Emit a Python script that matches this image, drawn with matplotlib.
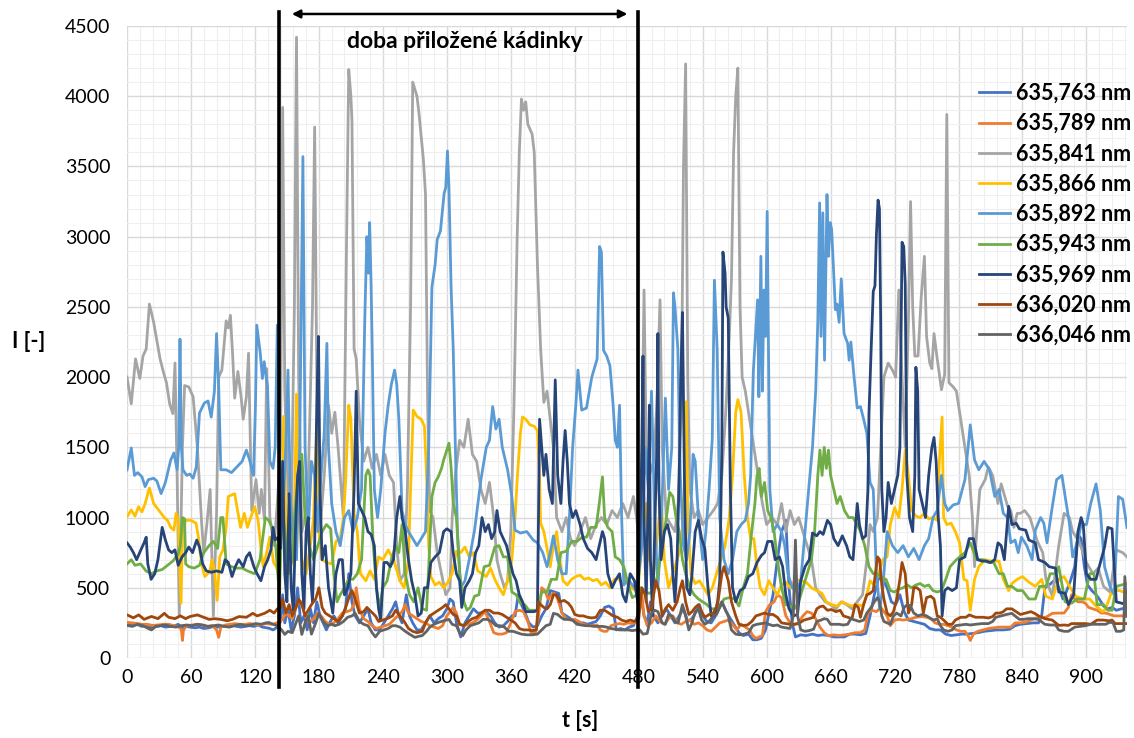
import matplotlib.pyplot as plt
import matplotlib.transforms as mtransforms
from matplotlib.ticker import MultipleLocator
import numpy as np

plt.rcParams['font.family'] = ['Lato', 'DejaVu Sans']

# (t [s], I [-]) pairs
s763 = [(0,243),(5,235),(9,240),(14,225),(18,230),(23,220),(28,225),(32,230),(36,220),(41,225),(45,230),(48,240),(52,215),(56,225),(59,220),(64,215),(68,220),(72,210),(77,215),(81,225),(85,220),(90,225),(94,230),(98,235),(103,225),(107,220),(111,225),(115,230),(119,225),(123,235),(127,220),(131,215),(134,210),(137,200),(141,220),(144,260),(146,450),(148,250),(151,350),(154,200),(157,300),(160,500),(163,250),(166,300),(169,200),(172,350),(175,250),(178,400),(181,300),(184,250),(187,200),(190,250),(194,300),(198,250),(202,300),(205,350),(208,600),(211,400),(214,300),(218,250),(222,300),(226,350),(229,250),(233,200),(237,200),(241,250),(245,300),(249,350),(252,400),(255,300),(258,250),(262,450),(265,300),(268,250),(272,200),(276,200),(280,250),(284,300),(288,250),(292,280),(296,300),(300,350),(303,420),(306,400),(309,250),(313,150),(317,250),(321,300),(325,350),(329,320),(333,320),(337,330),(341,300),(345,250),(349,220),(353,230),(357,260),(361,300),(364,300),(367,450),(370,380),(373,330),(377,250),(381,220),(385,230),(389,300),(393,350),(397,480),(401,470),(405,460),(408,320),(412,300),(416,280),(420,260),(424,250),(428,250),(432,240),(436,250),(440,260),(444,300),(448,360),(452,370),(456,350),(459,200),(463,210),(467,200),(471,220),(475,230),(479,300),(482,450),(485,300),(488,250),(491,400),(494,300),(498,250),(502,300),(506,350),(510,300),(514,250),(518,300),(522,350),(526,260),(530,280),(534,330),(537,380),(540,300),(544,260),(548,250),(552,300),(555,350),(558,400),(562,330),(566,280),(570,230),(574,180),(578,160),(583,170),(587,130),(591,130),(595,140),(599,200),(603,350),(606,450),(610,700),(614,900),(618,980),(621,500),(624,250),(627,150),(632,165),(637,160),(643,170),(648,160),(653,165),(658,160),(663,150),(668,150),(673,150),(678,170),(683,170),(688,165),(693,175),(697,300),(701,450),(705,570),(709,560),(713,500),(717,400),(721,380),(725,450),(729,330),(733,270),(738,260),(743,250),(748,240),(753,210),(758,200),(763,200),(768,170),(773,160),(778,165),(783,170),(788,170),(793,175),(798,180),(804,190),(810,195),(816,200),(822,200),(828,205),(833,230),(838,240),(844,245),(850,250),(855,250),(858,300),(861,500),(865,520),(868,540),(871,560),(874,500),(878,420),(881,470),(885,550),(889,650),(892,880),(895,850),(898,650),(901,520),(905,480),(909,450),(912,420),(916,370),(920,350),(924,360),(928,340),(933,350),(938,360)]

s789 = [(0,253),(5,250),(10,245),(14,240),(19,240),(24,232),(29,235),(34,240),(39,240),(44,230),(49,220),(51,200),(52,125),(53,200),(56,230),(61,235),(66,240),(70,235),(75,225),(80,230),(84,200),(86,147),(88,220),(92,235),(97,240),(101,245),(106,240),(111,240),(115,245),(120,240),(124,235),(127,240),(131,245),(135,240),(139,245),(143,260),(146,275),(149,320),(152,300),(155,280),(158,350),(161,400),(164,400),(167,300),(171,250),(175,280),(179,320),(182,300),(186,260),(190,240),(194,250),(198,280),(202,320),(206,330),(210,340),(213,380),(215,500),(218,350),(222,280),(226,260),(230,230),(234,210),(238,220),(242,230),(246,240),(250,270),(254,300),(258,330),(261,380),(264,320),(268,300),(272,280),(276,260),(280,250),(284,230),(288,220),(292,210),(296,230),(300,300),(303,330),(306,360),(309,320),(312,240),(316,230),(320,240),(324,250),(328,270),(332,300),(336,330),(340,260),(344,180),(348,170),(352,170),(356,180),(360,250),(364,330),(368,340),(372,330),(376,260),(379,180),(383,180),(386,300),(389,500),(392,480),(395,420),(398,450),(401,460),(404,420),(408,320),(412,280),(416,270),(420,275),(424,260),(428,240),(432,232),(436,232),(441,235),(444,200),(447,190),(450,190),(454,230),(458,240),(462,245),(466,240),(470,250),(474,245),(478,255),(481,350),(483,450),(485,300),(488,230),(492,250),(496,300),(500,260),(504,240),(508,280),(512,300),(516,250),(520,240),(524,260),(528,270),(532,240),(536,250),(540,230),(544,200),(548,190),(552,220),(556,250),(560,260),(564,270),(568,240),(572,200),(576,240),(580,220),(584,200),(587,160),(590,140),(593,150),(596,160),(599,330),(603,380),(607,400),(610,450),(614,430),(618,300),(622,250),(626,240),(630,250),(634,300),(638,330),(642,320),(646,280),(650,220),(654,180),(658,160),(663,165),(668,160),(673,165),(678,170),(683,180),(688,180),(692,200),(695,320),(699,340),(703,330),(707,360),(710,330),(713,300),(716,230),(720,270),(724,275),(728,270),(732,275),(736,280),(740,290),(745,295),(750,290),(754,280),(758,250),(762,240),(766,240),(770,230),(774,220),(778,200),(782,190),(786,190),(789,160),(791,125),(794,170),(798,190),(803,200),(808,210),(813,215),(818,220),(823,220),(829,220),(833,250),(838,250),(843,255),(848,270),(853,285),(858,290),(862,290),(868,318),(874,320),(879,320),(883,360),(886,450),(889,420),(892,400),(896,400),(899,390),(902,360),(906,350),(910,340),(914,320),(918,320),(922,310),(926,300),(930,300),(934,300),(938,295)]

s841 = [(0,2000),(4,1810),(8,2130),(12,1990),(15,2150),(18,2200),(21,2520),(25,2390),(28,2260),(31,2130),(34,2040),(37,1960),(40,1810),(43,1740),(45,2100),(47,1300),(49,300),(52,1500),(54,1940),(58,1930),(62,1860),(66,1500),(70,960),(72,750),(75,960),(78,1200),(81,300),(84,1030),(86,2000),(89,2050),(93,2400),(95,2350),(97,2440),(99,2170),(101,1850),(104,2040),(107,1860),(109,1700),(112,1860),(114,2170),(117,1050),(121,1270),(124,1030),(126,1200),(129,980),(131,2060),(134,1000),(138,800),(141,1100),(144,1500),(146,3920),(148,1900),(151,1200),(154,1000),(157,2500),(159,4420),(161,2000),(164,900),(167,1000),(170,1250),(174,2500),(176,3780),(178,2000),(181,900),(185,1300),(189,1800),(192,1600),(195,1750),(198,1500),(201,1200),(203,1000),(206,3000),(208,4190),(210,4000),(211,3830),(213,2200),(215,2130),(218,1700),(222,1400),(226,1500),(230,1350),(234,1450),(238,1300),(242,1450),(246,1300),(250,1250),(253,800),(256,550),(260,600),(263,1200),(266,2500),(268,4100),(272,4000),(274,3870),(278,3550),(280,3300),(282,1800),(284,1050),(287,1000),(291,750),(295,600),(299,450),(303,500),(305,1000),(308,1300),(312,1550),(316,1500),(320,1700),(324,1450),(328,1400),(332,1200),(336,1100),(340,1250),(344,1000),(347,700),(350,600),(354,500),(357,550),(360,900),(363,1800),(366,3000),(368,3600),(370,3980),(372,3900),(374,3960),(376,3800),(380,3730),(382,3600),(385,2800),(388,2200),(391,1820),(394,1900),(397,1700),(400,1500),(403,1000),(408,900),(412,1000),(416,850),(420,800),(425,900),(430,1000),(435,850),(440,950),(445,1000),(450,950),(455,1050),(460,1000),(465,1100),(470,1000),(475,1150),(478,1000),(481,800),(483,1500),(485,2620),(487,1500),(490,1300),(494,1400),(497,1800),(500,2550),(502,1500),(506,1000),(510,950),(514,900),(517,1100),(520,1800),(522,3500),(524,4230),(526,2000),(528,1200),(532,1000),(536,1050),(540,950),(545,1000),(550,1050),(554,1100),(558,1300),(562,1800),(565,2300),(567,2700),(569,3600),(571,4000),(573,4200),(575,2500),(577,2000),(580,1900),(584,1700),(588,1500),(592,1300),(596,1100),(600,950),(605,1000),(610,950),(614,1100),(618,900),(622,1050),(626,950),(630,1000),(634,900),(638,800),(642,700),(646,500),(650,450),(655,400),(660,380),(665,350),(670,400),(675,380),(680,350),(685,400),(690,450),(694,700),(697,950),(700,900),(704,1000),(707,1500),(710,2000),(714,2100),(718,2050),(721,2000),(724,2620),(727,2000),(730,1500),(733,2400),(735,3250),(737,2500),(739,2150),(742,2150),(745,2570),(748,2860),(750,2290),(753,2100),(755,2060),(757,2310),(760,2130),(764,1910),(767,2020),(769,3870),(771,1960),(775,1930),(778,1900),(782,1700),(786,1500),(790,1300),(793,1000),(795,650),(797,900),(800,1200),(805,1270),(808,1360),(812,1300),(817,1100),(820,1240),(826,1080),(829,1050),(832,930),(835,1030),(838,1030),(842,1050),(847,1000),(851,900),(854,830),(859,750),(862,560),(868,440),(874,800),(879,1030),(884,1000),(887,900),(893,830),(900,680),(906,600),(911,640),(916,510),(922,470),(928,770),(934,750),(938,720)]

s866 = [(0,1006),(4,1054),(7.5,1010),(10.8,1077),(14,1040),(17,1100),(21,1210),(25,1100),(28,1070),(31,1040),(35,1000),(38,980),(41,930),(44,910),(46,1030),(48,980),(50.7,390),(52,900),(55,980),(60,980),(64.7,960),(67,860),(70,670),(73,580),(75.6,600),(78,630),(79.7,700),(82,620),(84.6,410),(87,720),(90,770),(93,930),(95,1150),(98,1160),(101,1170),(103,1080),(106.5,930),(110,1030),(113,930),(116,1000),(119.8,1077),(123,980),(126,750),(127.8,650),(131,750),(134,860),(137.5,680),(140,650),(143,580),(145,1000),(147,1720),(149,1000),(152,600),(155,700),(157,1000),(159,1880),(161,1200),(164,700),(168,600),(172,800),(175,1000),(178,1670),(180,900),(183,700),(187,680),(192,670),(196,830),(200,850),(203,1000),(205,1250),(208,1800),(210,1700),(213,1030),(216,900),(219,600),(224,550),(228,620),(232,560),(236,720),(240,700),(245,770),(250,700),(256,550),(260,500),(264,700),(266,1200),(268.5,1765),(272,1720),(276,1700),(279,1650),(281,1300),(283,800),(285,580),(289,520),(293,540),(297,500),(301,540),(305,600),(309,760),(313,750),(317,790),(321,720),(325,750),(329,620),(333,600),(337,580),(341,640),(345,560),(349,500),(353,450),(357,550),(361,700),(364,1000),(366,1270),(369,1600),(371,1716),(374,1700),(378,1660),(382,1650),(385,1620),(387,1300),(388,960),(391,900),(394,780),(397,650),(400,800),(403,900),(406,700),(409,550),(413,520),(417,560),(421,580),(425,590),(429,560),(433,570),(437,550),(441,560),(445,520),(449,540),(453,500),(457,560),(461,570),(465,520),(469,560),(473,500),(477,480),(480,550),(484,900),(487,1100),(490,700),(494,600),(498,900),(501,1150),(504,700),(508,500),(512,600),(516,700),(520,800),(523,1200),(524.6,1825),(526,1000),(529,600),(533,530),(537,550),(541,500),(545,450),(549,500),(553,600),(557,700),(561,800),(565,1000),(568,1300),(571,1750),(573,1840),(576,1750),(579,1300),(582,1000),(585,850),(588,850),(591,650),(594,500),(598,450),(602,550),(606,500),(610,450),(614,520),(618,540),(622,500),(627,560),(632,550),(637,540),(642,500),(647,480),(652,460),(656,400),(661,380),(666,370),(671,400),(676,380),(681,370),(686,380),(690,370),(694,450),(697,550),(701,520),(705,600),(709,700),(713,720),(716,950),(720,1070),(724,1000),(727,1200),(730,1480),(733,1300),(736,1050),(740,1010),(744,1000),(748,1030),(752,990),(756,1000),(760,980),(762,1400),(764.6,1716),(766,1000),(769,950),(773,960),(777,900),(781,820),(785,560),(788,550),(791,340),(795,560),(799,650),(805,700),(811,690),(818,690),(822,560),(827,480),(830,530),(835,560),(840,580),(846,540),(852,510),(858,560),(862,440),(868,420),(874,560),(879,580),(884,510),(890,440),(897,420),(903,420),(909,370),(915,330),(918,350),(924,480),(931,480),(938,460)]

s892 = [(0,1340),(4,1495),(7,1300),(10,1320),(14,1290),(17,1220),(20,1270),(25,1280),(28,1260),(32,1170),(36,1250),(41,1410),(44,1460),(47,1340),(48.5,1500),(49.7,2270),(51,1500),(52.5,1340),(56,1300),(59,1310),(62,1280),(65,1360),(68,1745),(72.5,1815),(76,1830),(79,1715),(82,1900),(84,2310),(86,1930),(88,1340),(93,1340),(98,1320),(103,1360),(108,1400),(112,1480),(115,1410),(118.7,1300),(120.5,1800),(121.7,2370),(125,2170),(127,1990),(128.7,2110),(131.8,1930),(134,1400),(137,1350),(139,1500),(141,2370),(143,1400),(146,1000),(149,1500),(151,2050),(153,1200),(156,800),(159,700),(162,1500),(165,3570),(167,1500),(170,900),(173,1400),(176,1300),(179,900),(182,1300),(185,1600),(187.5,2240),(189,1500),(192,1100),(196,900),(200,800),(204,1000),(208,1050),(212,900),(216,1000),(220,1200),(223,2400),(225,3000),(226.6,2740),(227.6,3100),(229,2650),(230,2200),(232,1200),(235,1000),(238,1200),(242,1600),(245,1800),(248,1950),(251,2050),(253,1950),(255,1700),(258,1050),(261,950),(264,900),(268,850),(272,800),(276,850),(280,900),(283,1500),(286,2640),(289,2800),(291,2980),(294,3040),(297.5,3310),(299,3350),(300.6,3610),(302,3350),(304,2640),(306,2200),(308,1500),(310,900),(313,500),(317,550),(321,700),(326,910),(332,1270),(337,1500),(340,1550),(343,1790),(346,1630),(349,1700),(352,1500),(357,1340),(361,1150),(364,910),(369,890),(375,900),(381,840),(385,820),(390,750),(394,650),(397,750),(400,870),(404,700),(408,600),(412,600),(415,1000),(418,1500),(421,1800),(423,2050),(426.5,1765),(431,1780),(436,2000),(441,2130),(443.3,2930),(445,2890),(447,2190),(450,2150),(453,2080),(456,1800),(458,1550),(460,1500),(462,1800),(464,1000),(466,520),(470,560),(474,520),(478,480),(480,600),(483,800),(486,1500),(489,1200),(492,1900),(495,1000),(498,500),(501,900),(505,1850),(508,1200),(511,1500),(512.6,2600),(514,2500),(516.7,2200),(519,1300),(522,800),(525,700),(528,900),(531,1450),(533,1400),(536,1000),(540,700),(543,900),(546,1200),(549,1560),(551,2690),(553.6,2200),(556,1000),(560,700),(564,600),(568,700),(572,900),(576,950),(580,980),(583,1100),(585,1300),(587.5,2040),(589.6,2310),(591.5,2550),(592.7,1860),(594.6,2860),(596,1900),(597.5,2620),(599,2290),(600.5,3180),(601.5,2400),(603,1200),(606,900),(610,950),(614,900),(617,800),(620,600),(624,500),(628,480),(632,550),(636,900),(640,1250),(643,1500),(646,1900),(648,2400),(649.7,3240),(651,2290),(652.7,3170),(654.3,2120),(656.6,3300),(658,2860),(659.6,3100),(661,3050),(664.5,2480),(666,2520),(668,2390),(670,2700),(672.6,2310),(676,2240),(677.4,2120),(679,2250),(682,2000),(685,1780),(688,1790),(691,1700),(694,1600),(697,1250),(700,1200),(703,600),(706,350),(709,500),(713,900),(718,800),(723,750),(728,800),(733,720),(738,780),(743,700),(748,800),(752,850),(756,1000),(760,1050),(764,1300),(767,1100),(770,1050),(775,1090),(780,1100),(786,1270),(791,1660),(795,1410),(799,1340),(804,1400),(809,1340),(814,1150),(818,1200),(822,1030),(826,1000),(829,820),(833,840),(836,750),(839,860),(844,800),(849,700),(852,910),(857,1000),(860,960),(863,820),(868,1080),(872,1270),(877,1300),(880,1150),(884,960),(887,720),(892,840),(895,950),(900,950),(904,1100),(909,1240),(913,1050),(917,650),(922,510),(926,450),(930,1150),(934,1130),(938,930)]

s943 = [(0,670),(4,700),(7.5,660),(12.8,670),(17.8,620),(23,600),(28,620),(33,630),(38,660),(43,690),(48,740),(50,800),(52,1000),(54,990),(55,670),(58,650),(63,640),(68,660),(72,750),(77,800),(81,830),(85,780),(88,1000),(90,1000),(93,670),(98,650),(103,640),(108,640),(113,620),(119.8,600),(124.7,700),(129.8,1000),(133,980),(136,930),(139.5,800),(142.8,460),(145.6,1050),(148,900),(151,600),(155,700),(158,1100),(161,1300),(164,1450),(167,1000),(171,800),(175,700),(179,800),(183,900),(187,950),(191,920),(194,600),(197,400),(200,450),(204,500),(208,560),(212,560),(216,600),(220,700),(224,1300),(226,1340),(228,1300),(231,800),(234,500),(237,350),(240,500),(244,550),(248,700),(252,800),(255,750),(258,950),(261,600),(265,450),(269,400),(273,500),(277,350),(281,340),(284,800),(286,1150),(289,1250),(292,1290),(295,1350),(297,1410),(300,1480),(302,1530),(304,1360),(306,1100),(309,1000),(312,600),(316,400),(319,340),(322,360),(326,440),(330,450),(335,650),(340,660),(345,790),(349,800),(353,720),(357,720),(361,470),(365,450),(369,390),(373,380),(377,340),(381,340),(385,340),(389,470),(394,470),(398,560),(403,560),(407,750),(412,760),(417,830),(422,830),(427,860),(431,860),(435,930),(440,930),(443,1100),(446,1290),(448,1000),(451,930),(455,900),(458,720),(462,700),(466,650),(470,520),(474,430),(478,450),(482,500),(486,470),(490,460),(494,480),(498,600),(502,800),(506,1000),(509,1180),(512,1150),(515,1000),(518,900),(521,700),(524,600),(528,500),(532,450),(536,420),(540,400),(544,380),(548,350),(552,350),(556,360),(560,420),(565,430),(570,420),(574,370),(578,500),(582,600),(586,900),(589,1100),(591,1300),(593,1350),(595,1150),(598,1250),(601,1050),(604,1000),(607,900),(610,700),(614,500),(618,380),(622,370),(626,350),(630,400),(634,500),(638,600),(642,700),(645,900),(648,1300),(650,1480),(652,1300),(654,1500),(656,1350),(658,1480),(660,1300),(663,1200),(666,1100),(669,1150),(673,1050),(677,1000),(681,1000),(685,950),(688,900),(692,800),(696,650),(700,600),(704,600),(708,570),(712,560),(716,480),(720,470),(724,490),(728,500),(732,520),(736,500),(740,520),(744,530),(748,510),(752,520),(756,480),(760,470),(764,480),(768,560),(772,650),(778,700),(786,750),(791,820),(797,700),(803,700),(808,680),(813,680),(818,600),(822,600),(826,510),(830,510),(835,480),(840,480),(846,420),(852,420),(856,510),(862,510),(866,600),(871,600),(874,650),(880,400),(886,390),(891,420),(898,420),(903,600),(907,600),(910,380),(916,380),(920,340),(924,340),(928,510),(933,520),(938,530)]

s969 = [(0,820),(3,790),(6,750),(9,700),(13,770),(16,820),(18,860),(19.5,670),(22.6,560),(26,600),(29,700),(33,930),(36,840),(39,770),(42,750),(45,770),(48,660),(51.6,720),(55,750),(58,790),(61.5,750),(65.4,840),(68,790),(71,670),(74.4,620),(79,610),(84,620),(89,610),(92,700),(95,680),(98.5,580),(101.6,650),(104.8,700),(109,650),(112,720),(115,750),(119,650),(122,600),(125.6,550),(129,650),(132,700),(135,770),(137,930),(139,840),(141.7,860),(144,780),(146,1400),(148,600),(150,400),(152,1170),(154,500),(156,340),(158,900),(160,1300),(162,1400),(164,600),(166,350),(168,900),(170,1000),(172,600),(174,400),(176,800),(178,1800),(179.6,2290),(181,1200),(183,700),(186,800),(189,500),(193,320),(196,600),(199,700),(202,700),(204,450),(207,500),(210,600),(213,1200),(215,1900),(217,1100),(220,1050),(223,1000),(226,900),(229,880),(232,800),(234,500),(236,350),(238,270),(241,680),(244,680),(247,650),(250,700),(253,1000),(256,1150),(258,1000),(261,900),(264,700),(267,550),(270,450),(273,300),(276,320),(279,500),(282,500),(285,680),(289,720),(293,750),(297,900),(300,920),(304,900),(306,750),(309,600),(312,550),(314,360),(317,500),(321,550),(324,600),(327,750),(330,800),(333,1000),(336,900),(339,950),(342,850),(345,900),(347,1050),(350,900),(353,850),(356,800),(359,700),(362,600),(365,550),(368,450),(371,400),(374,330),(378,330),(382,330),(385,340),(386,1000),(387,1700),(389,1500),(391,1300),(393,1450),(396,1200),(399,1100),(401.7,1980),(404,1300),(407,1100),(409,1400),(411,1620),(413,1400),(415,1100),(418,1000),(421,1050),(425,950),(428,850),(432,780),(436,750),(440,700),(443,800),(446,900),(448,850),(451,600),(455,500),(458,550),(462,600),(465,450),(468,400),(472,600),(476,550),(479,400),(481,800),(483,1500),(484,2150),(485,1000),(487,400),(489,1200),(490,1800),(491,700),(493,300),(495,900),(497,1500),(498,2310),(499,1200),(501,700),(504,900),(507,950),(510,850),(512,600),(514,400),(516,700),(518,1300),(519.5,2000),(521,2460),(523,1200),(525,500),(528,450),(530,600),(533,900),(536,980),(539,850),(542,780),(545,500),(548,300),(551,300),(554,400),(556,550),(558,1500),(559,2890),(561,2740),(562,2500),(564,2420),(566,1200),(568,500),(571,400),(575,480),(579,500),(583,580),(587,600),(591,680),(595,730),(598,750),(601,830),(605,830),(608,700),(612,720),(615,650),(618,450),(621,350),(625,300),(629,310),(632,550),(636,650),(640,700),(643,890),(647,870),(650,900),(653,880),(657,980),(660,950),(663,850),(667,800),(671,870),(675,800),(678,720),(681,700),(683,900),(685,1100),(687,950),(690,850),(693,870),(695,1200),(696,1740),(698,2190),(700,2610),(701.6,2650),(703,3020),(704.5,3260),(705.8,3200),(707,2400),(708,1200),(710,900),(712,1000),(714,1250),(717,1100),(720,1200),(723,1300),(725,1500),(727,2960),(728.6,2930),(730,2660),(731.5,1300),(734,1000),(737,900),(739,1300),(740,2070),(741.7,1900),(743,1200),(746,1100),(749,1000),(752,1300),(755,1500),(757,1570),(759,1400),(761,1000),(763,800),(764.6,300),(767,480),(770,500),(774,480),(778,500),(781,700),(786,720),(790,850),(794,850),(798,700),(802,690),(806,690),(810,680),(814,700),(817,820),(820,800),(823,700),(827,1080),(830,950),(834,960),(837,920),(843,910),(846,840),(852,820),(855,700),(861,680),(865,650),(871,640),(874,470),(880,460),(883,380),(888,450),(892,900),(895,1000),(897,950),(900,600),(904,560),(909,560),(912,650),(917,790),(920,930),(924,920),(926,650),(928,400),(933,390),(938,380)]

s020 = [(0,307),(6,286),(11,307),(16,275),(23,296),(29,280),(35,318),(39,290),(45,280),(50,300),(55,280),(59,295),(66,307),(72,290),(77,275),(82,280),(88,275),(94,265),(99,275),(105,295),(112,290),(118,318),(122,300),(129,318),(134,340),(138,320),(141,350),(144,360),(146,420),(149,320),(152,380),(155,300),(158,350),(161,420),(164,380),(167,300),(170,340),(173,380),(177,420),(180,500),(183,360),(186,320),(190,300),(194,280),(198,260),(202,300),(206,380),(209,450),(211,480),(214,420),(218,320),(222,330),(225,360),(229,330),(233,300),(236,260),(240,270),(244,280),(249,300),(252,340),(256,300),(260,260),(264,210),(268,190),(272,180),(277,190),(280,250),(284,300),(288,320),(292,340),(296,360),(299,380),(303,340),(306,310),(309,300),(312,240),(316,230),(320,260),(324,280),(328,290),(332,320),(336,340),(340,340),(344,320),(348,320),(352,310),(356,290),(360,270),(364,250),(368,210),(372,200),(376,200),(380,195),(384,200),(386,400),(388,380),(391,360),(394,350),(397,380),(400,450),(403,450),(406,400),(410,410),(414,390),(417,360),(420,310),(424,300),(428,300),(432,290),(436,285),(440,290),(444,340),(448,340),(452,320),(456,300),(460,290),(464,270),(468,260),(472,270),(476,260),(480,280),(483,500),(486,450),(489,330),(492,350),(496,550),(499,480),(502,300),(505,350),(508,380),(512,340),(516,400),(519,500),(521,550),(524,400),(527,310),(530,330),(533,360),(536,380),(539,330),(542,290),(546,310),(550,320),(554,380),(558,600),(560,650),(562,600),(564,550),(567,400),(571,300),(574,240),(578,232),(582,235),(586,260),(590,300),(594,310),(598,320),(602,310),(606,310),(610,290),(614,250),(618,245),(622,240),(626,240),(630,245),(635,270),(640,280),(644,290),(647,350),(650,365),(653,370),(657,340),(661,345),(665,330),(669,340),(672,300),(676,290),(680,280),(683,380),(686,360),(688,290),(691,380),(694,450),(697,460),(700,480),(702,600),(704,720),(706,700),(708,520),(710,420),(713,320),(716,300),(719,330),(722,420),(725,560),(727,680),(730,600),(733,320),(736,380),(738,500),(741,500),(744,480),(747,320),(750,430),(754,440),(757,420),(760,300),(763,290),(766,270),(770,240),(774,240),(777,270),(782,290),(787,290),(790,307),(796,290),(803,290),(808,285),(812,295),(815,320),(819,320),(822,330),(825,350),(830,350),(834,330),(838,310),(843,320),(848,330),(852,315),(855,300),(861,280),(868,270),(874,232),(879,235),(883,232),(886,245),(890,245),(895,245),(899,245),(904,240),(910,270),(916,270),(921,265),(924,270),(927,245),(932,245),(938,245)]

s046 = [(0,232),(5,225),(10,240),(15,230),(20,210),(23,200),(27,225),(31,230),(36,235),(41,225),(46,220),(51,230),(56,235),(61,230),(66,240),(71,235),(76,225),(81,230),(86,235),(91,225),(96,220),(101,230),(106,240),(111,230),(116,235),(121,245),(126,240),(130,250),(133,253),(137,240),(141,230),(145,200),(148,168),(151,190),(155,180),(158,240),(161,300),(164,168),(167,250),(170,300),(173,170),(177,250),(180,318),(184,260),(188,230),(192,240),(195,230),(199,240),(203,260),(207,290),(211,300),(214,318),(218,260),(222,240),(226,230),(230,180),(233,150),(237,190),(241,200),(245,210),(249,230),(252,230),(256,220),(261,190),(265,170),(270,147),(274,155),(277,160),(281,190),(284,220),(288,240),(292,253),(297,265),(302,275),(305,240),(309,230),(312,180),(315,160),(318,200),(322,230),(326,240),(330,250),(334,275),(338,275),(342,260),(346,230),(350,230),(354,220),(358,190),(362,190),(366,180),(370,170),(375,165),(380,165),(385,170),(389,200),(393,230),(397,240),(400,318),(404,310),(407,290),(410,275),(414,275),(418,270),(422,240),(426,235),(430,230),(434,230),(438,225),(442,225),(446,225),(450,220),(454,210),(458,205),(462,200),(466,200),(470,200),(474,195),(478,200),(481,200),(484,170),(488,175),(492,320),(495,340),(498,330),(502,250),(505,240),(508,310),(511,300),(514,260),(517,250),(521,380),(524,300),(527,200),(530,250),(533,330),(536,350),(539,270),(542,240),(546,260),(550,300),(553,310),(556,360),(558,400),(561,350),(564,300),(567,200),(571,170),(575,165),(579,170),(583,180),(587,230),(591,240),(595,245),(599,250),(602,240),(606,230),(610,235),(614,220),(618,215),(622,210),(625,300),(627,840),(629,300),(632,200),(636,190),(640,195),(644,205),(647,260),(651,270),(654,280),(657,275),(660,240),(664,240),(668,240),(672,235),(676,240),(679,280),(683,270),(687,260),(691,270),(694,320),(698,360),(701,400),(704,430),(706,400),(708,300),(710,260),(713,250),(716,240),(719,300),(722,320),(726,300),(729,360),(732,380),(735,370),(738,320),(742,300),(746,310),(750,300),(754,280),(757,270),(760,280),(763,230),(766,200),(770,190),(774,200),(777,230),(782,235),(787,240),(791,235),(796,240),(802,245),(808,245),(812,260),(815,290),(820,300),(825,310),(830,318),(833,300),(837,275),(841,275),(845,280),(850,280),(855,275),(861,240),(866,235),(871,235),(874,200),(879,190),(883,190),(889,220),(894,225),(899,230),(904,240),(910,240),(914,240),(918,240),(922,255),(925,250),(928,190),(932,190),(935,200),(936,580),(938,300)]

labels = ['635,763 nm', '635,789 nm', '635,841 nm', '635,866 nm', '635,892 nm',
          '635,943 nm', '635,969 nm', '636,020 nm', '636,046 nm']
series = [s763, s789, s841, s866, s892, s943, s969, s020, s046]
colors = ['#4472C4', '#ED7D31', '#A5A5A5', '#FFC000', '#5B9BD5',
          '#70AD47', '#264478', '#9E480E', '#636363']

beaker_start = 142.7
beaker_end = 479.6

fig = plt.figure(figsize=(11.34, 7.38), dpi=100)
ax = fig.add_axes([0.112, 0.1084, 0.8818, 0.8564])

for s, c, lab in zip(series, colors, labels):
    d = np.array(s, dtype=float)
    ax.plot(d[:, 0], d[:, 1], color=c, lw=2.0, label=lab, solid_joinstyle='round')

ax.set_xlim(0, 938)
ax.set_ylim(0, 4500)
ax.xaxis.set_major_locator(MultipleLocator(60))
ax.xaxis.set_minor_locator(MultipleLocator(12))
ax.yaxis.set_major_locator(MultipleLocator(500))
ax.yaxis.set_minor_locator(MultipleLocator(100))
ax.grid(which='major', color='#D9D9D9', lw=1.0)
ax.grid(which='minor', color='#EFEFEF', lw=0.8)
ax.set_axisbelow(True)
for sp in ax.spines.values():
    sp.set_visible(False)
ax.tick_params(which='both', length=0, labelsize=14, colors='black')
ax.tick_params(axis='x', pad=8)
ax.tick_params(axis='y', pad=12)

# beaker period markers
trans = mtransforms.blended_transform_factory(ax.transData, ax.transAxes)
for xv in (beaker_start, beaker_end):
    ax.plot([xv, xv], [-0.046, 1.022], transform=trans, color='black', lw=2.6, clip_on=False, zorder=5)
ax.annotate('', xy=(152, 1.019), xytext=(472, 1.019), xycoords=trans, textcoords=trans,
            arrowprops=dict(arrowstyle='<|-|>', color='black', lw=1.8, mutation_scale=12),
            annotation_clip=False)
ax.text(317, 0.975, 'doba přiložené kádinky', transform=trans, ha='center', va='center',
        fontsize=16.5, fontweight='bold')

fig.text(0.025, 0.537, 'I [-]', ha='center', va='center', fontsize=15.5, fontweight='bold')
fig.text(0.5115, 0.024, 't [s]', ha='center', va='center', fontsize=15.5, fontweight='bold')

leg = ax.legend(loc='upper left', bbox_to_anchor=(0.852, 0.91), frameon=False,
                prop={'weight': 'bold', 'size': 15.5}, handlelength=1.45,
                handletextpad=0.25, labelspacing=0.43, borderaxespad=0, borderpad=0)

fig.savefig('out.png', dpi=100)
